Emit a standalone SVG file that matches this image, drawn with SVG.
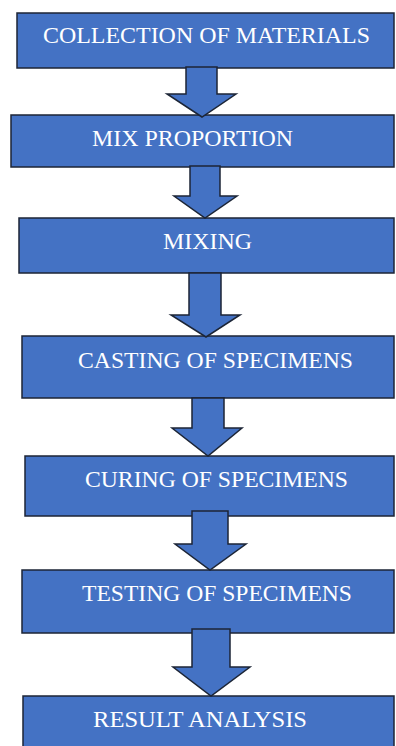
<svg xmlns="http://www.w3.org/2000/svg" width="396" height="746" viewBox="0 0 396 746">
<style>
.box{fill:#4472C4;stroke:#1c2536;stroke-width:1.5}
.arr{fill:#4472C4;stroke:#1c2536;stroke-width:1.5;stroke-linejoin:miter}
.t{fill:#ffffff;font-family:"Liberation Serif","Times New Roman",serif;font-size:23px;text-anchor:middle}
</style>
<rect width="396" height="746" fill="#ffffff"/>
<g id="n1"><rect class="box" x="17" y="13" width="377" height="55"/><text class="t" x="206.5" y="43" textLength="327" lengthAdjust="spacingAndGlyphs">COLLECTION OF MATERIALS</text></g>
<g id="n2"><rect class="box" x="11" y="115" width="383" height="52"/><text class="t" x="192.5" y="146" textLength="201" lengthAdjust="spacingAndGlyphs">MIX PROPORTION</text></g>
<g id="n3"><rect class="box" x="19" y="218" width="375" height="55"/><text class="t" x="207.5" y="249" textLength="89" lengthAdjust="spacingAndGlyphs">MIXING</text></g>
<g id="n4"><rect class="box" x="22" y="336" width="372" height="62"/><text class="t" x="215.5" y="368" textLength="275" lengthAdjust="spacingAndGlyphs">CASTING OF SPECIMENS</text></g>
<g id="n5"><rect class="box" x="25" y="456" width="369" height="60"/><text class="t" x="216.5" y="487" textLength="263" lengthAdjust="spacingAndGlyphs">CURING OF SPECIMENS</text></g>
<g id="n6"><rect class="box" x="22" y="570" width="372" height="63"/><text class="t" x="217" y="601" textLength="270" lengthAdjust="spacingAndGlyphs">TESTING OF SPECIMENS</text></g>
<g id="n7"><rect class="box" x="23" y="696" width="371" height="60"/><text class="t" x="200" y="727" textLength="214" lengthAdjust="spacingAndGlyphs">RESULT ANALYSIS</text></g>
<g id="connectors">
<polygon class="arr" points="186,67 217,67 217,94 236,94 202,117 167,94 186,94"/>
<polygon class="arr" points="190,166 220,166 220,196 237,196 205,218 174,196 190,196"/>
<polygon class="arr" points="189,273 221,273 221,315 240,315 206,337 171,315 189,315"/>
<polygon class="arr" points="192,398 224,398 224,428 242,428 208,456 172,428 192,428"/>
<polygon class="arr" points="192,511 228,511 228,544 246,544 210,570 175,544 192,544"/>
<polygon class="arr" points="192,629 230,629 230,667 250,667 211,696 173,667 192,667"/>
</g>
</svg>
